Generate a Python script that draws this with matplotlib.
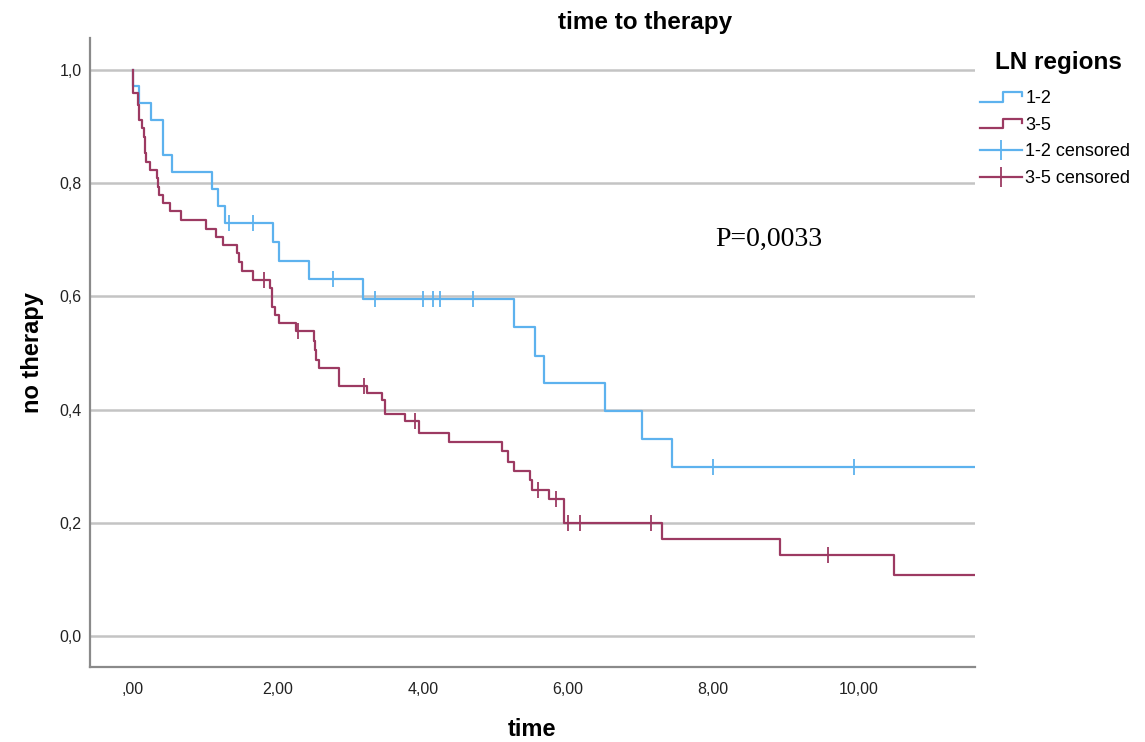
import matplotlib
matplotlib.use("Agg")
import matplotlib.pyplot as plt
from matplotlib.lines import Line2D
from matplotlib.legend_handler import HandlerBase

plt.rcParams['font.family'] = ['Liberation Sans', 'DejaVu Sans']

# ---- Kaplan-Meier steps ----
# group 1-2 LN regions
t_12 = [0.0, 0.0, 0.087, 0.244, 0.418, 0.542, 1.086, 1.168, 1.269, 1.927, 2.014,
        2.432, 3.177, 5.26, 5.545, 5.669, 6.51, 7.025, 7.43, 11.7]
s_12 = [1.0, 0.972, 0.942, 0.911, 0.850, 0.820, 0.790, 0.760, 0.729, 0.696, 0.663,
        0.630, 0.595, 0.545, 0.495, 0.446, 0.398, 0.348, 0.298, 0.298]
cens_t_12 = [1.32, 1.66, 2.76, 3.34, 4.00, 4.14, 4.23, 4.69, 8.00, 9.945]

# group 3-5 LN regions
t_35 = [0.0, 0.0, 0.07, 0.087, 0.12, 0.152, 0.16, 0.17, 0.18, 0.234, 0.326, 0.34,
        0.36, 0.41, 0.51, 0.657, 1.007, 1.145, 1.246, 1.43, 1.466, 1.50, 1.66,
        1.89, 1.91, 1.96, 2.02, 2.25, 2.50, 2.51, 2.52, 2.56, 2.84, 3.22, 3.43,
        3.48, 3.75, 3.95, 4.36, 5.09, 5.17, 5.25, 5.47, 5.50, 5.74, 5.94, 7.29,
        8.92, 10.49, 11.7]
s_35 = [1.0, 0.959, 0.938, 0.912, 0.897, 0.882, 0.867, 0.853, 0.838, 0.823, 0.809,
        0.794, 0.779, 0.765, 0.750, 0.734, 0.719, 0.704, 0.690, 0.676, 0.660, 0.645,
        0.629, 0.614, 0.582, 0.567, 0.552, 0.538, 0.521, 0.505, 0.488, 0.473,
        0.442, 0.429, 0.417, 0.392, 0.379, 0.359, 0.342, 0.326, 0.308, 0.292,
        0.276, 0.258, 0.242, 0.199, 0.171, 0.143, 0.108, 0.108]
cens_t_35 = [1.80, 2.27, 3.18, 3.89, 5.58, 5.83, 6.00, 6.17, 7.14, 9.58]

y_ticks = [0.0, 0.2, 0.4, 0.6, 0.8, 1.0]
y_tick_labels = ['0,0', '0,2', '0,4', '0,6', '0,8', '1,0']
x_ticks = [0, 2, 4, 6, 8, 10]
x_tick_labels = [',00', '2,00', '4,00', '6,00', '8,00', '10,00']

blue = '#5DB2EE'
red = '#9C3A62'


def surv_at(ts, ss, tc):
    # value of the step function just at time tc
    val = ss[0]
    for t, s in zip(ts, ss):
        if t <= tc:
            val = s
    return val


fig = plt.figure(figsize=(11.45, 7.42), dpi=100)
ax = fig.add_axes([0.0786, 0.1011, 0.7729, 0.8477])

for yt in y_ticks:
    ax.axhline(yt, color='#C4C4C4', lw=1.8, zorder=0)

ax.step(t_12, s_12, where='post', color=blue, lw=1.6, zorder=3)
ax.step(t_35, s_35, where='post', color=red, lw=1.6, zorder=3)

ax.plot(cens_t_12, [surv_at(t_12, s_12, c) for c in cens_t_12], ls='none',
        marker='|', ms=11, mew=1.3, color=blue, zorder=4)
ax.plot(cens_t_35, [surv_at(t_35, s_35, c) for c in cens_t_35], ls='none',
        marker='|', ms=11, mew=1.3, color=red, zorder=4)

ax.set_xlim(-0.593, 11.61)
ax.set_ylim(-0.055, 1.0565)
ax.set_yticks(y_ticks)
ax.set_yticklabels(y_tick_labels)
ax.set_xticks(x_ticks)
ax.set_xticklabels(x_tick_labels)
ax.tick_params(length=0, labelsize=11.5, colors='#222222')
ax.tick_params(axis='y', pad=6)
ax.tick_params(axis='x', pad=11)
for side in ['top', 'right']:
    ax.spines[side].set_visible(False)
for side in ['left', 'bottom']:
    ax.spines[side].set_color('#8A8A8A')
    ax.spines[side].set_linewidth(1.6)

ax.set_ylabel('no therapy', fontsize=17, fontweight='bold', labelpad=11)
fig.text(532 / 1145, 1 - 729 / 742, 'time', fontsize=17, fontweight='bold',
         ha='center', va='center')
fig.text(645 / 1145, 1 - 22 / 742, 'time to therapy', fontsize=17.5,
         fontweight='bold', ha='center', va='center')

ax.text(8.03, 0.70, 'P=0,0033', fontsize=20, family='Liberation Serif',
        ha='left', va='center')


class StepHandler(HandlerBase):
    def create_artists(self, legend, orig_handle, xdescent, ydescent,
                       width, height, fontsize, trans):
        x0 = -xdescent
        y0 = -ydescent
        xs = [x0, x0 + width * 0.55, x0 + width * 0.55, x0 + width, x0 + width]
        ys = [y0 + height * 0.1, y0 + height * 0.1, y0 + height * 0.85,
              y0 + height * 0.85, y0 + height * 0.55]
        ln = Line2D(xs, ys, color=orig_handle.get_color(), lw=1.6)
        ln.set_transform(trans)
        return [ln]


fig.text(995 / 1145, 1 - 62 / 742, 'LN regions', fontsize=17.5,
         fontweight='bold', ha='left', va='center')

h1 = Line2D([], [], color=blue)
h2 = Line2D([], [], color=red)
h3 = Line2D([0], [0], color=blue, lw=1.6, marker='|', ms=14, mew=1.3)
h4 = Line2D([0], [0], color=red, lw=1.6, marker='|', ms=14, mew=1.3)
leg = fig.legend([h1, h2, h3, h4], ['1-2', '3-5', '1-2 censored', '3-5 censored'],
                 loc='upper left', bbox_to_anchor=(980 / 1145, 1 - 90 / 742),
                 frameon=False, fontsize=13,
                 handler_map={h1: StepHandler(), h2: StepHandler()},
                 handlelength=2.35, handletextpad=0.15, labelspacing=0.54,
                 borderpad=0, borderaxespad=0, numpoints=1)

fig.savefig('out.png', dpi=100)
